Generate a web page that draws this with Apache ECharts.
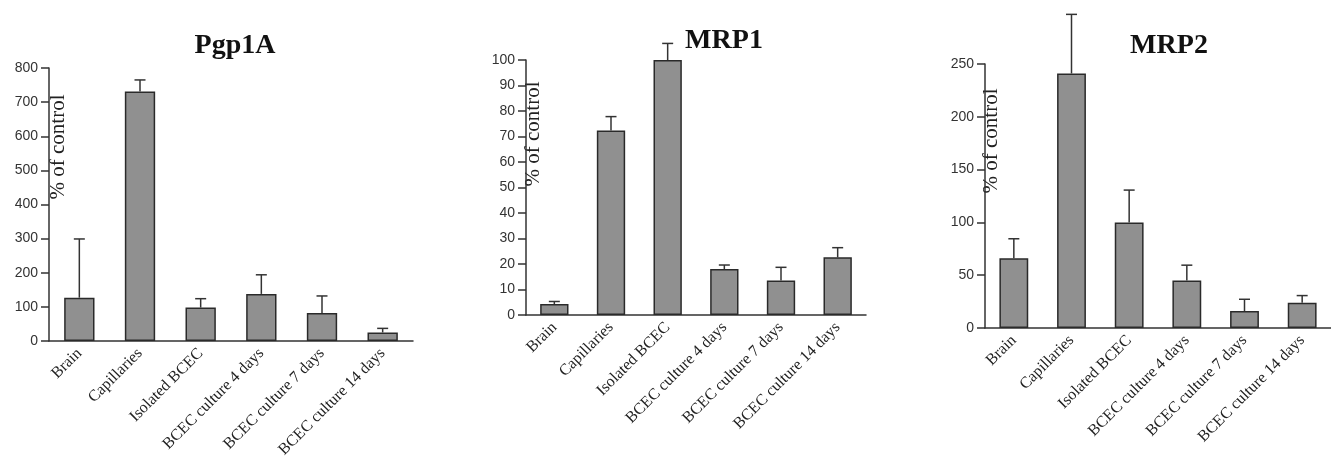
<!DOCTYPE html>
<html>
<head>
<meta charset="utf-8">
<script src="https://cdn.jsdelivr.net/npm/echarts@6/dist/echarts.min.js"></script>
<style>
  html, body { margin: 0; padding: 0; background: #fff; }
  #chart { width: 1331px; height: 467px; }
</style>
</head>
<body>
<div id="chart"></div>
<script>
// categories shared by the three panels
const categories = ['Brain', 'Capillaries', 'Isolated BCEC', 'BCEC culture 4 days', 'BCEC culture 7 days', 'BCEC culture 14 days']

// Pgp1A
const pgpValues = [127, 731, 98, 138, 82, 25]
const pgpErrors = [172, 34, 26, 56, 50, 12]
// MRP1
const mrp1Values = [4.3, 72.4, 100, 18.0, 13.5, 22.6]
const mrp1Errors = [1.0, 5.4, 6.5, 1.6, 5.2, 3.8]
// MRP2
const mrp2Values = [66, 241, 100, 45, 16, 24]
const mrp2Errors = [18.5, 56, 30.6, 14.5, 11.2, 6.7]

const panelTitles = ['Pgp1A', 'MRP1', 'MRP2']
const yAxisName = '% of control'
const yMax = [800, 100, 250]
const yStep = [100, 10, 50]

const SERIF = '"Liberation Serif", "Times New Roman", serif'
const SANS = '"Liberation Sans", Arial, sans-serif'
const INK = '#333'

const chart = echarts.init(document.getElementById('chart'))

// upper error bar only, with a short cap
function errorItem (params, api) {
  const x = api.value(0)
  const p0 = api.coord([x, api.value(1)])
  const p1 = api.coord([x, api.value(2)])
  const hw = 5.5
  const style = { stroke: INK, lineWidth: 1.5 }
  return {
    type: 'group',
    children: [
      { type: 'line', shape: { x1: p0[0], y1: p0[1], x2: p1[0], y2: p1[1] }, style },
      { type: 'line', shape: { x1: p1[0] - hw, y1: p1[1], x2: p1[0] + hw, y2: p1[1] }, style }
    ]
  }
}

const grids = [
  { left: 49, top: 68, width: 364, height: 273 },
  { left: 526, top: 60, width: 340, height: 255 },
  { left: 985, top: 64, width: 352, height: 264 }
]
const titlePos = [[235, 32], [724, 27], [1169, 32]]
const namePos = [[58, 147], [533, 134], [991, 141]]

const allValues = [pgpValues, mrp1Values, mrp2Values]
const allErrors = [pgpErrors, mrp1Errors, mrp2Errors]

const option = {
  animation: false,
  backgroundColor: '#fff',
  grid: grids,
  xAxis: grids.map((g, i) => ({
    type: 'category',
    gridIndex: i,
    data: categories,
    axisLine: { lineStyle: { color: INK, width: 1.5 } },
    axisTick: { length: 7, lineStyle: { color: INK, width: 1.5 } },
    axisLabel: {
      rotate: 45,
      interval: 0,
      margin: 10,
      color: '#222',
      fontFamily: SERIF,
      fontSize: 16
    }
  })),
  yAxis: grids.map((g, i) => ({
    type: 'value',
    gridIndex: i,
    min: 0,
    max: yMax[i],
    interval: yStep[i],
    splitLine: { show: false },
    axisLine: { show: true, lineStyle: { color: INK, width: 1.5 } },
    axisTick: { show: true, length: 8, lineStyle: { color: INK, width: 1.5 } },
    axisLabel: { margin: 11, color: '#333', fontFamily: SANS, fontSize: 14 }
  })),
  series: [],
  graphic: []
}

allValues.forEach((vals, i) => {
  option.series.push({
    type: 'bar',
    xAxisIndex: i,
    yAxisIndex: i,
    data: vals,
    barWidth: '50%',
    itemStyle: { color: '#909090', borderColor: '#2a2a2a', borderWidth: 1.5 }
  })
  option.series.push({
    type: 'custom',
    xAxisIndex: i,
    yAxisIndex: i,
    renderItem: errorItem,
    clip: false,
    z: 3,
    data: vals.map((v, k) => [k, v, v + allErrors[i][k]])
  })
  option.graphic.push({
    type: 'text',
    x: titlePos[i][0],
    y: titlePos[i][1],
    style: {
      text: panelTitles[i],
      font: 'bold 28px ' + SERIF,
      fill: '#111',
      textAlign: 'center',
      textVerticalAlign: 'top'
    }
  })
  option.graphic.push({
    type: 'text',
    x: namePos[i][0],
    y: namePos[i][1],
    rotation: Math.PI / 2,
    style: {
      text: yAxisName,
      font: '21px ' + SERIF,
      fill: '#222',
      textAlign: 'center',
      textVerticalAlign: 'middle'
    }
  })
})

chart.setOption(option)
</script>
</body>
</html>
